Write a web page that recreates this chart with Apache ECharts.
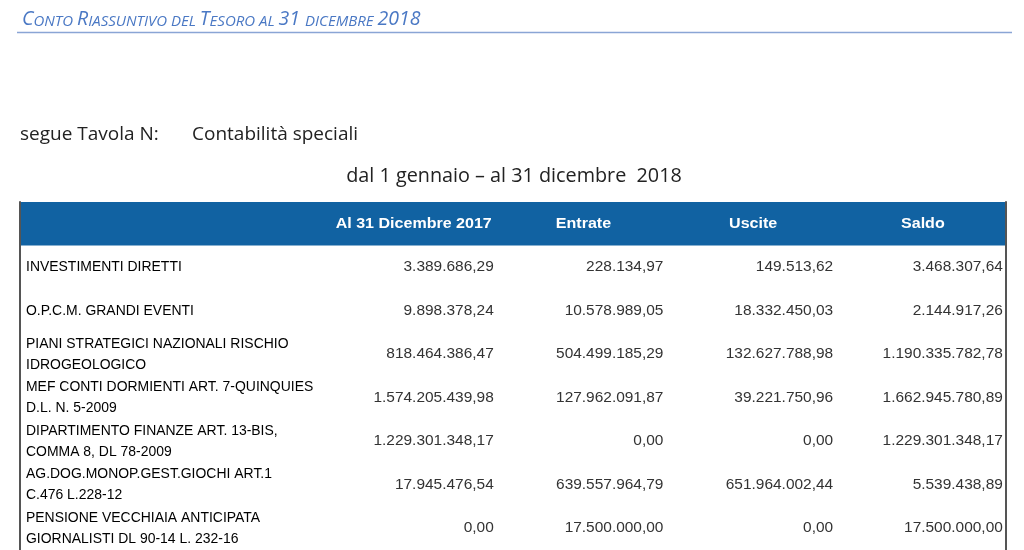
<!DOCTYPE html>
<html>
<head>
<meta charset="utf-8">
<script src="https://cdn.jsdelivr.net/npm/echarts@6/dist/echarts.min.js"></script>
<style>html,body{margin:0;padding:0;background:#fff}#c{width:1024px;height:550px}</style>
</head>
<body>
<div id="c"></div>
<script>
// ---- data ----
const colHeaders = ['Al 31 Dicembre 2017', 'Entrate', 'Uscite', 'Saldo'];
const rowLabels = [
  'INVESTIMENTI DIRETTI',
  'O.P.C.M. GRANDI EVENTI',
  'PIANI STRATEGICI NAZIONALI RISCHIO\nIDROGEOLOGICO',
  'MEF CONTI DORMIENTI ART. 7-QUINQUIES\nD.L. N. 5-2009',
  'DIPARTIMENTO FINANZE ART. 13-BIS,\nCOMMA 8, DL 78-2009',
  'AG.DOG.MONOP.GEST.GIOCHI ART.1\nC.476 L.228-12',
  'PENSIONE VECCHIAIA ANTICIPATA\nGIORNALISTI DL 90-14 L. 232-16'
];
const al31Dic2017 = [3389686.29, 9898378.24, 818464386.47, 1574205439.98, 1229301348.17, 17945476.54, 0];
const entrate     = [228134.97, 10578989.05, 504499185.29, 127962091.87, 0, 639557964.79, 17500000];
const uscite      = [149513.62, 18332450.03, 132627788.98, 39221750.96, 0, 651964002.44, 0];
const saldo       = [3468307.64, 2144917.26, 1190335782.78, 1662945780.89, 1229301348.17, 5539438.89, 17500000];
const valueCols = [al31Dic2017, entrate, uscite, saldo];

const titleText = 'Conto Riassuntivo del Tesoro al 31 dicembre 2018';
const tavolaText = 'segue Tavola N:';
const contabText = 'Contabilità speciali';
const periodText = 'dal 1 gennaio – al 31 dicembre  2018';

// ---- helpers ----
function fmtIt(v) {
  const cents = Math.round(v * 100);
  const intPart = Math.floor(cents / 100).toString();
  const dec = (cents % 100).toString().padStart(2, '0');
  return intPart.replace(/\B(?=(\d{3})+(?!\d))/g, '.') + ',' + dec;
}
// small caps as rich text
function smallCaps(str) {
  let out = '';
  let cur = '', curBig = null;
  for (const ch of str) {
    const big = /[A-Z0-9]/.test(ch);
    const isSpace = ch === ' ';
    const b = isSpace ? (curBig === null ? false : curBig) : big;
    if (curBig !== null && b !== curBig) {
      out += '{' + (curBig ? 'b' : 's') + '|' + cur + '}';
      cur = '';
    }
    curBig = b;
    cur += isSpace ? ' ' : ch.toUpperCase();
  }
  if (cur) out += '{' + (curBig ? 'b' : 's') + '|' + cur + '}';
  return out;
}

const X_MIN = -1.32, X_MAX = 4.49;
const cells = [];
colHeaders.forEach((h, k) => cells.push({ col: k + 1, row: -1, text: h, kind: 'head' }));
rowLabels.forEach((l, i) => cells.push({ col: X_MIN, row: i, text: l, kind: 'label' }));
valueCols.forEach((arr, k) => arr.forEach((v, i) => cells.push({ col: k + 1, row: i, text: fmtIt(v), kind: 'val' })));

const chart = echarts.init(document.getElementById('c'), null, { renderer: 'canvas' });
const FONT = '"Liberation Sans", Arial, sans-serif';
const SANS = '"Open Sans", sans-serif';
const yAxisBase = {
  type: 'value', min: -1.5, max: 6.5, inverse: true, z: 5,
  axisLine: { show: true, onZero: false, lineStyle: { color: '#555', width: 2 } },
  axisTick: { show: false }, axisLabel: { show: false }, splitLine: { show: false }
};
chart.setOption({
  animation: false,
  backgroundColor: '#fff',
  grid: { left: 20, right: 18, top: 202, bottom: 0 },
  xAxis: { type: 'value', min: X_MIN, max: X_MAX, show: false },
  yAxis: [Object.assign({ position: 'left' }, yAxisBase), Object.assign({ position: 'right' }, yAxisBase)],
  graphic: [
    {
      type: 'text', x: 22, y: 29,
      style: {
        text: smallCaps(titleText),
        verticalAlign: 'bottom',
        fill: '#4a78c4',
        rich: {
          b: { fontSize: 19.5, fontStyle: 'italic', fontFamily: SANS, fill: '#4a78c4', verticalAlign: 'bottom', lineHeight: 24 },
          s: { fontSize: 15, fontStyle: 'italic', fontFamily: SANS, fill: '#4a78c4', verticalAlign: 'bottom', lineHeight: 24 }
        }
      }
    },
    { type: 'line', shape: { x1: 17, y1: 32.5, x2: 1012, y2: 32.5 }, style: { stroke: '#8aa5d5', lineWidth: 1.5 } },
    { type: 'text', x: 20, y: 135, style: { text: tavolaText, fontSize: 19, fontFamily: SANS, fill: '#222', verticalAlign: 'middle' } },
    { type: 'text', x: 192, y: 135, style: { text: contabText, fontSize: 19, fontFamily: SANS, fill: '#222', verticalAlign: 'middle' } },
    { type: 'text', x: 514, y: 176, style: { text: periodText, fontSize: 19.8, fontFamily: SANS, fill: '#222', align: 'center', verticalAlign: 'middle' } }
  ],
  series: [
    {
      type: 'line', data: [], z: 1,
      markArea: { silent: true, itemStyle: { color: '#1162a2' }, data: [[{ yAxis: -1.5 }, { yAxis: -0.5 }]] }
    },
    {
      type: 'custom', z: 10,
      data: cells.map((c, i) => [c.col, c.row, i]),
      encode: { x: 0, y: 1 },
      renderItem: function (params, api) {
        const c = cells[api.value(2)];
        const p = api.coord([api.value(0), api.value(1)]);
        if (c.kind === 'head') {
          return { type: 'text', x: p[0], y: p[1], scaleX: 1.07,
            style: { text: c.text, fill: '#fff', fontSize: 15, fontWeight: 'bold', fontFamily: FONT, align: 'center', verticalAlign: 'middle' } };
        }
        if (c.kind === 'label') {
          return { type: 'text', x: p[0] + 6, y: p[1], scaleX: 0.93,
            style: { text: c.text, fill: '#000', fontSize: 15, fontFamily: FONT, lineHeight: 21, align: 'left', verticalAlign: 'middle' } };
        }
        return { type: 'text', x: p[0] + 80, y: p[1], scaleX: 1.03,
          style: { text: c.text, fill: '#333', fontSize: 15, fontFamily: FONT, align: 'right', verticalAlign: 'middle' } };
      }
    }
  ]
});
</script>
</body>
</html>
